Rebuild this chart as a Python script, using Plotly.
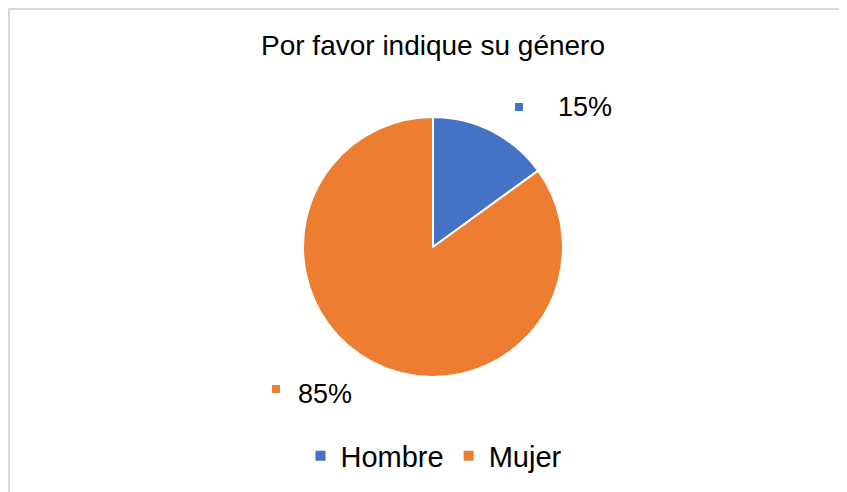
import plotly.graph_objects as go

# Data
categories = ["Hombre", "Mujer"]
values = [15, 85]
colors = ["#4472C4", "#ED7D31"]
title_text = "Por favor indique su género"

# page offset (body margin) compensation
OFF = 8
W, H = 847 - OFF, 492 - OFF

def px(x):
    return (x - OFF) / W

def py(y):
    return 1 - (y - OFF) / H

total = sum(values)
pct_labels = [f"{round(v / total * 100)}%" for v in values]

fig = go.Figure()
fig.add_trace(go.Pie(
    labels=categories,
    values=values,
    marker=dict(colors=colors, line=dict(color="white", width=2)),
    sort=False,
    direction="clockwise",
    rotation=0,
    textinfo="none",
    hoverinfo="label+percent",
    domain=dict(x=[px(303), px(563)], y=[py(377), py(117)]),
    showlegend=True,
))

font_family = "Liberation Sans, Arial, sans-serif"

# data label positions (text start, center y) and key squares
label_pos = [(556, 107), (296, 394)]
square_pos = [(519, 107), (276, 389)]
annotations = []
shapes = []
for i, lab in enumerate(pct_labels):
    tx, ty = label_pos[i]
    annotations.append(dict(
        x=px(tx), y=py(ty), xref="paper", yref="paper",
        text=lab, showarrow=False, xanchor="left", yanchor="middle",
        font=dict(family=font_family, size=27, color="#000000"),
    ))
    sx, sy = square_pos[i]
    shapes.append(dict(
        type="rect", xref="paper", yref="paper",
        x0=px(sx - 4), x1=px(sx + 4), y0=py(sy + 4), y1=py(sy - 4),
        fillcolor=colors[i], line=dict(width=0),
    ))

# chart border (top and left visible)
shapes.append(dict(type="line", xref="paper", yref="paper",
                   x0=px(8), x1=1, y0=py(9), y1=py(9),
                   line=dict(color="#d9d9d9", width=2)))
shapes.append(dict(type="line", xref="paper", yref="paper",
                   x0=px(9), x1=px(9), y0=py(8), y1=0,
                   line=dict(color="#d9d9d9", width=2)))

fig.update_layout(
    width=W, height=H,
    margin=dict(l=0, r=0, t=0, b=0),
    paper_bgcolor="white",
    plot_bgcolor="white",
    title=dict(text=title_text, x=px(433), xref="paper", xanchor="center",
               y=py(45), yref="paper", yanchor="middle",
               font=dict(family=font_family, size=28, color="#000000")),
    legend=dict(orientation="h", x=px(434), xanchor="center",
                y=py(456), yanchor="middle",
                font=dict(family=font_family, size=29, color="#000000"),
                itemwidth=30, traceorder="normal"),
    annotations=annotations,
    shapes=shapes,
)

fig.write_html("out.html")
